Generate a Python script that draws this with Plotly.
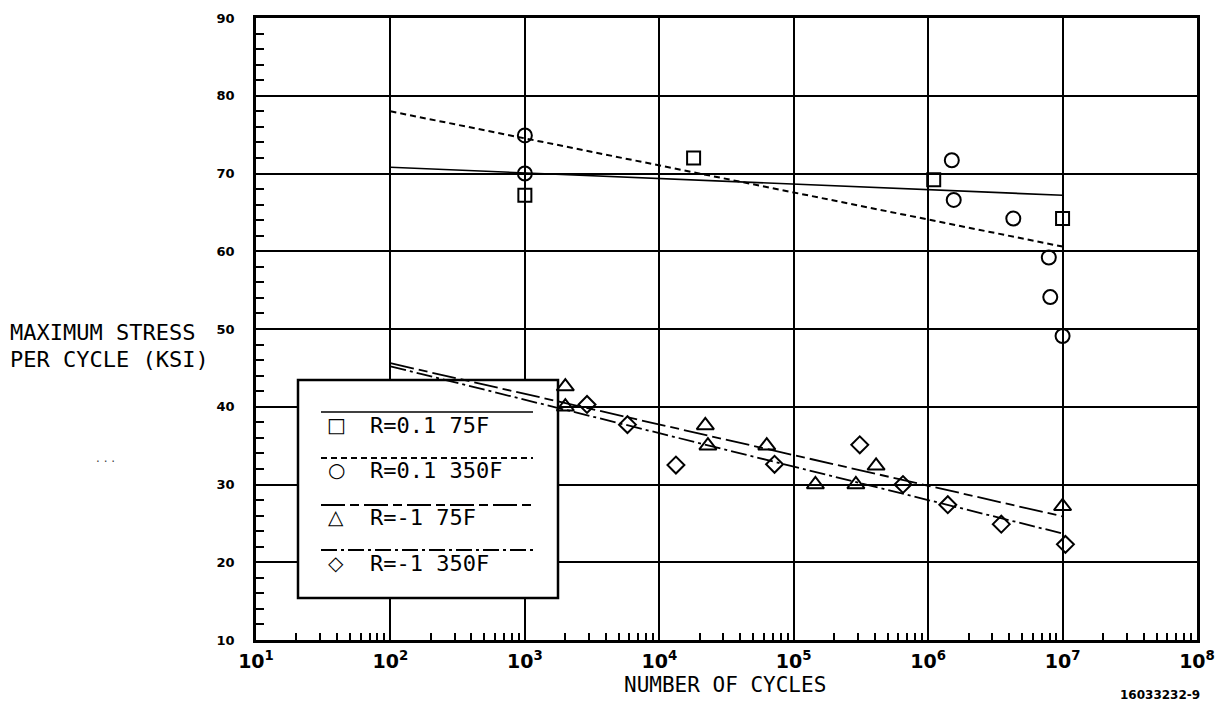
import plotly.graph_objects as go

# ---------------- data ----------------
series_names = ["R=0.1 75F", "R=0.1 350F", "R=-1 75F", "R=-1 350F"]

sq_cycles = [1e3, 1.8e4, 1.1e6, 1e7]
sq_stress = [67.2, 72.0, 69.2, 64.2]

ci_cycles = [1e3, 1e3, 1.5e6, 1.55e6, 4.3e6, 7.9e6, 8.1e6, 1e7]
ci_stress = [74.9, 70.0, 71.7, 66.6, 64.2, 59.2, 54.1, 49.1]

tr_cycles = [2e3, 2e3, 2.2e4, 2.3e4, 6.3e4, 1.45e5, 2.9e5, 4.1e5, 1e7]
tr_stress = [42.6, 40.0, 37.6, 35.0, 35.0, 30.0, 30.0, 32.4, 27.2]

di_cycles = [2.9e3, 5.8e3, 1.33e4, 7.2e4, 3.1e5, 6.5e5, 1.4e6, 3.5e6, 1.05e7]
di_stress = [40.3, 37.7, 32.5, 32.6, 35.1, 30.0, 27.4, 24.9, 22.3]

fit_cycles = [1e2, 1e7]
fit_sq = [70.8, 67.2]
fit_ci = [78.0, 60.6]
fit_tr = [45.6, 25.9]
fit_di = [45.2, 23.7]

x_tick_vals = [1e1, 1e2, 1e3, 1e4, 1e5, 1e6, 1e7, 1e8]
x_tick_text = ["10<sup>1</sup>", "10<sup>2</sup>", "10<sup>3</sup>", "10<sup>4</sup>",
               "10<sup>5</sup>", "10<sup>6</sup>", "10<sup>7</sup>", "10<sup>8</sup>"]
y_tick_vals = [10, 20, 30, 40, 50, 60, 70, 80, 90]

x_title = "NUMBER OF CYCLES"
y_title_lines = ["MAXIMUM STRESS", "PER CYCLE (KSI)"]
figure_id = "16033232-9"

# ---------------- figure ----------------
OFF = 8                      # page body margin in the browser
W, H = 1224 - 2 * OFF, 709 - 2 * OFF
# plot area in screen pixels: x 256..1197, y 18..640
SX0, SX1, SY0, SY1 = 256, 1197, 18, 640
L, T = SX0 - OFF, SY0 - OFF
R, B = W - (SX1 - OFF), H - (SY1 - OFF)
PW, PH = SX1 - SX0, SY1 - SY0
XLOG0, XLOG1 = 1, 8
Y0, Y1 = 10, 90

def px(xs):
    return (xs - SX0) / PW

def py(ys):
    return (SY1 - ys) / PH

def dx(xs):  # screen px -> x data value (log axis)
    return 10 ** (XLOG0 + (XLOG1 - XLOG0) * px(xs))

def dy(ys):  # screen px -> y data value
    return Y0 + (Y1 - Y0) * py(ys)

fig = go.Figure()

line_styles = [
    dict(dash="solid", width=1.6),
    dict(dash="6px,4px", width=2.0),
    dict(dash="24px,5px,9px,5px", width=1.8),
    dict(dash="16px,4px,3px,4px", width=1.8),
]
fits = [fit_sq, fit_ci, fit_tr, fit_di]
for name, fy, st in zip(series_names, fits, line_styles):
    fig.add_trace(go.Scatter(x=fit_cycles, y=fy, mode="lines", name=name,
                             line=dict(color="black", **st), showlegend=False,
                             hoverinfo="skip"))

marker_sets = [
    (sq_cycles, sq_stress, "square-open", 13),
    (ci_cycles, ci_stress, "circle-open", 14),
    (tr_cycles, tr_stress, "triangle-up-open", 15),
    (di_cycles, di_stress, "diamond-open", 13),
]
for name, (xs, ys, sym, sz) in zip(series_names, marker_sets):
    fig.add_trace(go.Scatter(x=xs, y=ys, mode="markers", name=name,
                             marker=dict(symbol=sym, size=sz, color="black",
                                         line=dict(color="black", width=2)),
                             showlegend=False))

fig.update_xaxes(
    type="log", range=[XLOG0, XLOG1],
    tickmode="array", tickvals=x_tick_vals, ticktext=x_tick_text,
    showgrid=True, gridcolor="black", gridwidth=1.5,
    showline=True, linecolor="black", linewidth=2.5, mirror=True,
    ticks="inside", ticklen=8, tickcolor="black", tickwidth=1.5,
    tickfont=dict(family="DejaVu Sans", size=19, color="black", weight="bold"),
    ticklabelstandoff=2,
    minor=dict(ticks="inside", ticklen=7, tickcolor="black", tickwidth=1.5,
               dtick="D1", showgrid=False),
    zeroline=False,
)
fig.update_yaxes(
    range=[Y0, Y1], tickmode="array", tickvals=y_tick_vals,
    showgrid=True, gridcolor="black", gridwidth=1.5,
    showline=True, linecolor="black", linewidth=2.5, mirror=True,
    ticks="inside", ticklen=8, tickcolor="black", tickwidth=1.5,
    tickfont=dict(family="DejaVu Sans", size=13, color="black", weight="bold"),
    ticklabelstandoff=16,
    minor=dict(ticks="inside", ticklen=8, tickcolor="black", tickwidth=1.5,
               dtick=2, showgrid=False),
    zeroline=False,
)

shapes = []
annotations = []

# legend box (hides the grid but data lines pass over it)
shapes.append(dict(type="rect", xref="x", yref="y",
                   x0=dx(298), x1=dx(558), y0=dy(598), y1=dy(380),
                   line=dict(color="black", width=2.5), fillcolor="white",
                   layer="between"))

legend_line_y = [412, 458, 505, 550]
legend_text_y = [425, 470, 517, 563]
legend_symbols = ["□", "○", "△", "◇"]
mono = "DejaVu Sans Mono"
for name, st, ly, ty, sym in zip(series_names, line_styles, legend_line_y,
                                 legend_text_y, legend_symbols):
    shapes.append(dict(type="line", xref="paper", yref="paper",
                       x0=px(321), x1=px(533), y0=py(ly), y1=py(ly),
                       line=dict(color="black", width=st["width"], dash=st["dash"]),
                       layer="above"))
    annotations.append(dict(xref="paper", yref="paper", x=px(336), y=py(ty),
                            text=sym, showarrow=False, xanchor="center",
                            yanchor="middle",
                            font=dict(family="DejaVu Sans", size=20, color="black")))
    annotations.append(dict(xref="paper", yref="paper", x=px(368), y=py(ty),
                            text=name, showarrow=False, xanchor="left",
                            yanchor="middle",
                            font=dict(family=mono, size=22, color="black")))

# y-axis title (horizontal, two lines)
for txt, yy in zip(y_title_lines, [332, 359]):
    annotations.append(dict(xref="paper", yref="paper", x=px(8), y=py(yy),
                            text=txt, showarrow=False, xanchor="left",
                            yanchor="middle",
                            font=dict(family=mono, size=22, color="black")))

# x-axis title
annotations.append(dict(xref="paper", yref="paper", x=px(725), y=py(685),
                        text=x_title, showarrow=False, xanchor="center",
                        yanchor="middle",
                        font=dict(family=mono, size=21, color="black")))

# figure id
annotations.append(dict(xref="paper", yref="paper", x=px(1160), y=py(695),
                        text=figure_id, showarrow=False, xanchor="center",
                        yanchor="middle",
                        font=dict(family="DejaVu Sans", size=12, color="black",
                                  weight="bold")))

# stray dots
annotations.append(dict(xref="paper", yref="paper", x=px(105), y=py(462),
                        text="· · ·", showarrow=False, xanchor="center",
                        yanchor="middle",
                        font=dict(family="DejaVu Sans", size=12, color="#444444")))

fig.update_layout(
    width=W, height=H,
    margin=dict(l=L, r=R, t=T, b=B, autoexpand=False),
    paper_bgcolor="white", plot_bgcolor="white",
    shapes=shapes, annotations=annotations,
    showlegend=False,
)

fig.write_html("out.html")
